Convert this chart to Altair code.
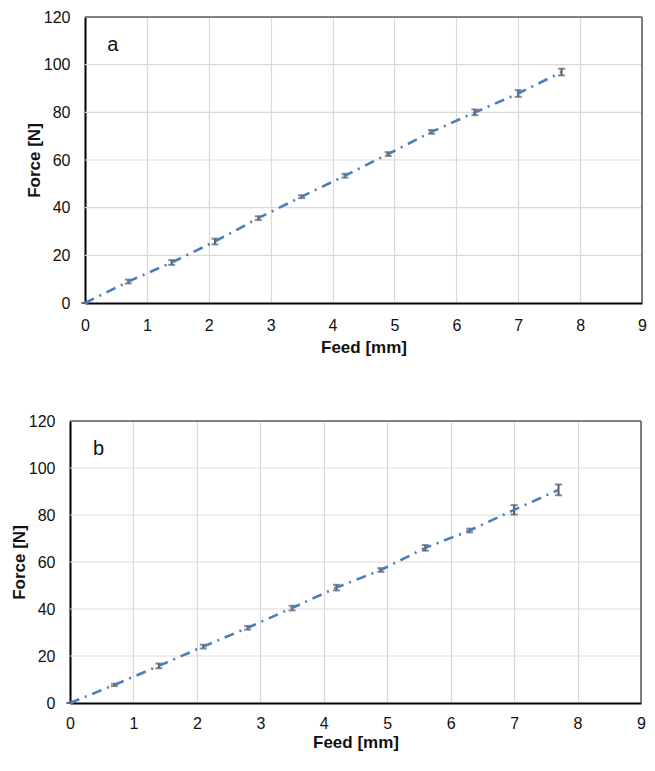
import altair as alt
import pandas as pd

feed = [0, 0.7, 1.4, 2.1, 2.8, 3.5, 4.2, 4.9, 5.6, 6.3, 7.0, 7.7]
force_a = [0, 9.0, 17.0, 25.8, 35.6, 44.6, 53.4, 62.5, 71.8, 80.0, 87.9, 96.9]
err_a = [0, 0.8, 1.0, 1.2, 0.8, 0.6, 0.8, 0.8, 0.8, 1.2, 1.4, 1.4]
force_b = [0, 7.7, 15.8, 24.0, 32.0, 40.4, 49.1, 56.6, 66.0, 73.4, 82.2, 90.7]
err_b = [0, 0.5, 1.0, 0.8, 0.8, 1.0, 1.2, 0.8, 1.2, 0.8, 2.0, 2.3]
x_ticks = list(range(0, 10))
y_ticks = list(range(0, 121, 20))
panel_labels = ["a", "b"]

FONT = "Liberation Sans"
BLUE = "#4a7ebb"
GRAY = "#595959"
GRID = "#d9d9d9"


def panel(force, err, label, plot_w, height, shift, xlab_pad, xtitle_pad):
    df = pd.DataFrame({
        "x": feed,
        "y": force,
        "lo": [f - e for f, e in zip(force, err)],
        "hi": [f + e for f, e in zip(force, err)],
    })
    width = plot_w + shift
    xs = alt.Scale(domain=[0, 9], nice=False, range=[shift, width])
    ys = alt.Scale(domain=[0, 120], nice=False)
    xax = alt.Axis(values=x_ticks, format="d", title="Feed [mm]", labelFlush=False,
                   ticks=False, tickSize=0, labelPadding=xlab_pad,
                   titlePadding=xtitle_pad,
                   grid=True, gridColor=GRID, gridWidth=1.2,
                   domainColor="black", domainWidth=2,
                   labelFont=FONT, labelFontSize=16, labelColor="#111",
                   titleFont=FONT, titleFontSize=17, titleFontWeight="bold",
                   titleColor="#111")
    yax = alt.Axis(values=y_ticks, format="d", title="Force [N]", labelFlush=False,
                   ticks=False, tickSize=0, labelPadding=15,
                   titlePadding=0, offset=-shift,
                   grid=False,
                   domainColor="black", domainWidth=2,
                   labelFont=FONT, labelFontSize=16, labelColor="#111",
                   titleFont=FONT, titleFontSize=17, titleFontWeight="bold",
                   titleColor="#111")
    grid_df = pd.DataFrame({"v": y_ticks[1:-1]})
    ygrid = alt.Chart(grid_df).mark_rule(color=GRID, strokeWidth=1.2).encode(
        x=alt.datum(0, scale=xs, axis=xax), x2=alt.datum(9),
        y=alt.Y("v:Q", scale=ys, axis=yax))
    top = alt.Chart(pd.DataFrame({"v": [120]})).mark_rule(
        color=GRAY, strokeWidth=1.5).encode(
        x=alt.datum(0), x2=alt.datum(9), y="v:Q")
    right = alt.Chart(pd.DataFrame({"v": [9]})).mark_rule(
        color=GRAY, strokeWidth=1.5).encode(
        x="v:Q", y=alt.datum(0), y2=alt.datum(120))
    base = alt.Chart(df)
    rules = base.mark_rule(color=GRAY, strokeWidth=2).encode(
        x="x:Q", y="lo:Q", y2="hi:Q")
    caps_lo = base.mark_tick(color=GRAY, orient="horizontal", size=7,
                             thickness=2).encode(x="x:Q", y="lo:Q")
    caps_hi = base.mark_tick(color=GRAY, orient="horizontal", size=7,
                             thickness=2).encode(x="x:Q", y="hi:Q")
    line = base.mark_line(color=BLUE, strokeWidth=2.6,
                          strokeDash=[10, 6, 2, 6]).encode(x="x:Q", y="y:Q")
    txt = alt.Chart(pd.DataFrame({"x": [0.45], "y": [105.7], "t": [label]})
                    ).mark_text(font=FONT, fontSize=20, align="center",
                                baseline="alphabetic", color="#111").encode(
        x="x:Q", y="y:Q", text="t:N")
    return alt.layer(ygrid, top, right, rules, caps_lo, caps_hi, line, txt
                     ).properties(width=width, height=height,
                                  view=alt.ViewBackground(stroke="transparent"))


pa = panel(force_a, err_a, panel_labels[0], 557, 286, 15, 14, 6)
pb = panel(force_b, err_b, panel_labels[1], 571, 282, 0, 12, 3)

chart = alt.vconcat(pa, pb, spacing=56).properties(
    padding={"left": 1, "top": 0, "right": 0, "bottom": 0}
).configure(background="white")

chart.save("out.html", embed_options={"renderer": "svg", "actions": False})
